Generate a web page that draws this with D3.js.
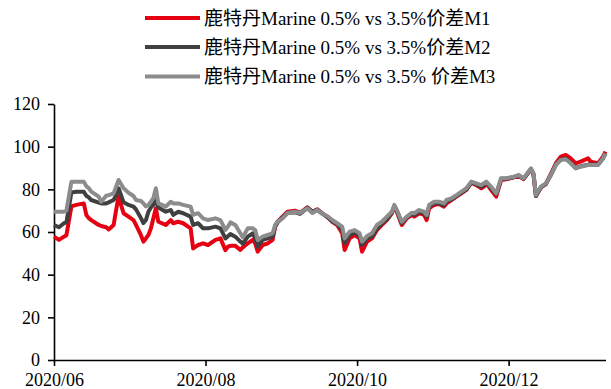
<!DOCTYPE html>
<html>
<head>
<meta charset="utf-8">
<script src="https://cdn.jsdelivr.net/npm/d3@7"></script>
<style>
  html, body { margin: 0; padding: 0; background: #fff; }
  svg { display: block; }
  text { font-family: "Liberation Serif", "Times New Roman", "Noto Sans CJK SC", serif; fill: #000; }
</style>
</head>
<body>
<svg id="chart" width="611" height="389"></svg>
<script>
// Rotterdam Marine fuel 0.5% vs 3.5% spread, first three months
const dates = [
  "2020-06-01","2020-06-03","2020-06-05","2020-06-06","2020-06-08","2020-06-10","2020-06-13","2020-06-14",
  "2020-06-15","2020-06-16","2020-06-19","2020-06-20","2020-06-22","2020-06-23","2020-06-25","2020-06-26",
  "2020-06-27","2020-06-29","2020-07-01","2020-07-03","2020-07-04","2020-07-06","2020-07-07","2020-07-08",
  "2020-07-09","2020-07-10","2020-07-11","2020-07-12","2020-07-13","2020-07-16","2020-07-18","2020-07-19",
  "2020-07-21","2020-07-23","2020-07-26","2020-07-27","2020-07-29","2020-07-31","2020-08-02","2020-08-05",
  "2020-08-07","2020-08-09","2020-08-10","2020-08-11","2020-08-13","2020-08-15","2020-08-16","2020-08-18",
  "2020-08-20","2020-08-21","2020-08-22","2020-08-24","2020-08-26","2020-08-28","2020-08-29","2020-08-30",
  "2020-09-01","2020-09-03","2020-09-06","2020-09-08","2020-09-11","2020-09-13","2020-09-15","2020-09-17",
  "2020-09-19","2020-09-21","2020-09-23","2020-09-25","2020-09-26","2020-09-28","2020-09-30","2020-10-02",
  "2020-10-03","2020-10-05","2020-10-07","2020-10-09","2020-10-11","2020-10-13","2020-10-15","2020-10-16",
  "2020-10-17","2020-10-19","2020-10-21","2020-10-23","2020-10-24","2020-10-26","2020-10-28","2020-10-29",
  "2020-10-30","2020-11-01","2020-11-03","2020-11-05","2020-11-06","2020-11-08","2020-11-10","2020-11-12",
  "2020-11-14","2020-11-16","2020-11-18","2020-11-20","2020-11-21","2020-11-22","2020-11-24","2020-11-26",
  "2020-11-28","2020-11-30","2020-12-03","2020-12-05","2020-12-07","2020-12-10","2020-12-11","2020-12-12",
  "2020-12-14","2020-12-16","2020-12-18","2020-12-20","2020-12-22","2020-12-24","2020-12-26","2020-12-28",
  "2020-12-30","2021-01-02","2021-01-03","2021-01-06","2021-01-08","2021-01-09"
];

const m1 = [
  57.8,56.3,57.8,58.5,72.0,72.7,73.4,68.0,
  66.5,65.6,63.3,62.8,62.2,61.2,63.3,70.3,
  76.6,68.8,67.2,65.6,63.3,58.5,55.5,57.0,
  58.6,61.7,66.4,71.1,64.8,63.3,65.6,64.1,
  64.8,64.1,61.7,52.3,53.9,54.7,53.9,56.3,
  57.0,51.5,53.1,53.5,53.5,51.6,52.8,54.7,
  56.3,54.7,50.8,53.9,54.7,56.3,62.5,64.8,
  67.2,69.5,70.0,69.0,71.6,69.5,70.6,68.7,
  67.2,64.8,63.3,59.4,51.6,57.0,58.6,57.0,
  50.8,55.5,57.0,60.9,63.3,65.6,68.8,71.9,
  69.5,63.3,66.4,68.0,67.2,68.8,68.0,65.6,
  71.1,72.7,73.1,71.9,73.4,75.0,76.6,78.1,
  79.7,83.1,82.0,80.5,81.2,82.8,79.7,76.6,
  84.4,84.7,85.6,86.3,84.8,89.5,87.0,76.9,
  80.9,82.5,87.2,92.2,95.3,96.1,94.5,92.2,
  93.0,94.5,93.0,92.2,95.3,97.7
];

const m2 = [
  63.3,62.2,64.1,64.5,78.5,78.9,78.9,77.0,
  76.2,75.0,73.8,73.4,73.4,73.9,75.0,77.3,
  80.5,73.9,72.7,71.9,70.6,66.5,64.2,65.6,
  69.5,71.5,72.7,75.0,71.5,69.5,70.3,68.0,
  69.5,68.8,67.2,63.3,64.1,61.7,61.7,62.5,
  61.7,57.0,58.0,59.0,57.8,55.5,54.5,57.8,
  59.4,57.0,53.1,56.3,57.0,57.8,62.5,64.5,
  66.8,69.0,69.2,68.5,71.3,69.5,70.4,68.6,
  67.0,65.0,63.8,61.0,54.7,58.6,59.7,58.6,
  53.9,57.0,57.8,61.7,64.1,66.0,69.1,72.2,
  70.0,64.1,66.9,68.5,68.0,69.5,68.8,67.2,
  72.0,73.6,73.4,72.5,74.5,75.2,76.9,78.5,
  80.0,83.3,82.4,81.2,82.0,83.3,80.5,77.7,
  85.0,85.0,85.6,86.5,85.0,89.5,87.2,76.9,
  81.0,82.6,86.7,91.6,94.0,94.5,92.5,90.0,
  90.8,91.6,91.6,91.6,94.5,97.0
];

const m3 = [
  69.5,69.5,69.5,70.0,83.5,83.6,83.6,81.5,
  80.5,78.9,76.6,74.2,77.0,77.3,78.1,81.3,
  84.4,80.5,78.4,76.9,75.0,74.5,73.4,72.0,
  72.7,74.2,75.9,80.5,73.4,71.9,74.2,73.4,
  73.4,72.7,71.9,68.0,68.8,66.4,65.6,66.4,
  65.6,61.0,62.5,64.5,63.3,59.4,57.5,61.7,
  61.7,60.9,56.3,57.8,58.6,59.4,63.3,64.8,
  66.4,68.9,69.5,68.9,71.1,68.9,70.3,68.5,
  67.5,65.6,64.1,62.5,57.0,60.2,60.9,59.4,
  55.5,58.1,59.4,63.3,64.8,67.2,69.5,72.7,
  70.3,64.8,67.2,69.0,68.8,70.3,69.5,68.0,
  72.7,74.2,74.2,73.4,75.0,75.8,77.3,78.9,
  80.5,83.6,82.8,82.0,82.8,83.6,81.2,78.1,
  85.2,85.2,85.9,86.7,85.2,89.8,87.5,77.3,
  81.3,82.8,86.7,91.4,93.8,94.1,92.2,89.8,
  90.6,91.4,91.4,91.4,94.5,96.9
];

const seriesNames = [
  "鹿特丹Marine 0.5% vs 3.5%价差M1",
  "鹿特丹Marine 0.5% vs 3.5%价差M2",
  "鹿特丹Marine 0.5% vs 3.5% 价差M3"
];
const seriesColors = ["#e60012", "#404040", "#8c8c8c"];

const yTicks = [0, 20, 40, 60, 80, 100, 120];
const xTicks = ["2020-06-01", "2020-08-01", "2020-10-01", "2020-12-01"];
const xDomain = ["2020-06-01", "2021-01-09"];

const parse = d3.utcParse("%Y-%m-%d");
const fmt = d3.utcFormat("%Y/%m");

const svg = d3.select("#chart");
const plot = { left: 54, right: 605.5, top: 104, bottom: 360 };

const x = d3.scaleUtc()
  .domain(xDomain.map(parse))
  .range([plot.left, plot.right]);

const y = d3.scaleLinear()
  .domain([0, 120])
  .range([plot.bottom, plot.top]);

// Y axis
const yAxis = svg.append("g")
  .attr("transform", `translate(${plot.left},0)`)
  .call(d3.axisLeft(y).tickValues(yTicks).tickSize(6).tickPadding(8).tickSizeOuter(0));

// X axis
const xAxis = svg.append("g")
  .attr("transform", `translate(0,${plot.bottom})`)
  .call(d3.axisBottom(x).tickValues(xTicks.map(parse)).tickFormat(fmt)
        .tickSize(6).tickPadding(7).tickSizeOuter(0));

[yAxis, xAxis].forEach(g => {
  g.select(".domain").attr("stroke", "#000").attr("stroke-width", 1.6);
  g.selectAll(".tick line").attr("stroke", "#000").attr("stroke-width", 1.6);
  g.selectAll(".tick text")
    .attr("fill", "#000")
    .style("font-family", '"Liberation Serif", "Times New Roman", serif')
    .style("font-size", "18px");
});

// Series lines
const series = [m1, m2, m3].map((vals, i) => ({
  name: seriesNames[i],
  color: seriesColors[i],
  points: vals.map((v, j) => ({ date: parse(dates[j]), value: v }))
}));

const line = d3.line()
  .x(d => x(d.date))
  .y(d => y(d.value));

svg.append("g")
  .selectAll("path")
  .data(series)
  .join("path")
  .attr("d", d => line(d.points))
  .attr("fill", "none")
  .attr("stroke", d => d.color)
  .attr("stroke-width", 4)
  .attr("stroke-linejoin", "round")
  .attr("stroke-linecap", "butt");

// Legend
const legend = svg.append("g");
const legendRows = [18, 47, 76.5];
series.forEach((s, i) => {
  const row = legend.append("g").attr("transform", `translate(0,${legendRows[i]})`);
  row.append("line")
    .attr("x1", 145).attr("x2", 200)
    .attr("y1", 0).attr("y2", 0)
    .attr("stroke", s.color)
    .attr("stroke-width", 4);
  row.append("text")
    .attr("x", 204)
    .attr("y", 0)
    .attr("dy", "0.35em")
    .style("font-size", "19px")
    .text(s.name);
});
</script>
</body>
</html>
